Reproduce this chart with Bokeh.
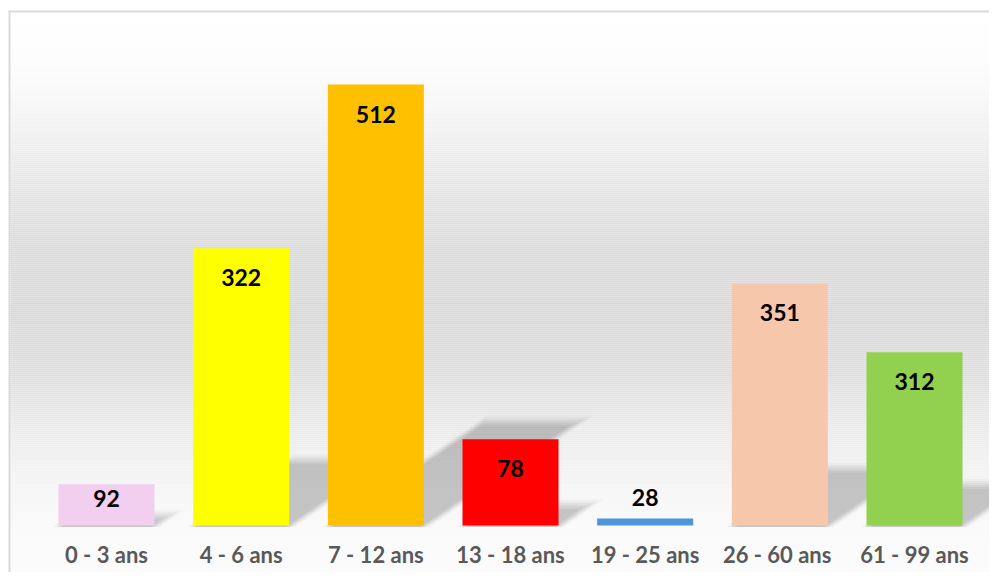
import numpy as np
from bokeh.plotting import figure
from bokeh.models import Range1d, ColumnDataSource
from bokeh.embed import file_html
from bokeh.resources import INLINE
from bokeh.core.properties import value

# ---------------- data ----------------
categories = ["0 - 3 ans", "4 - 6 ans", "7 - 12 ans", "13 - 18 ans",
              "19 - 25 ans", "26  - 60 ans", "61 - 99 ans"]
bar_values = [48, 322, 512, 100, 8, 281, 201]        # heights as drawn
label_values = [92, 322, 512, 78, 28, 351, 312]      # printed data labels
bar_colors = ["#F2CEEF", "#FFFF00", "#FFC000", "#FF0000",
              "#4E95D9", "#F7C7AC", "#92D050"]

# ---------------- layout (pixels) ----------------
W, H = 989, 572
x_first = 106.0
x_step = 134.67
base_px = 525.0
ppu = 441.0 / 512.0
TXT_FIX = 9.0   # text renders lower than its anchor; compensate

x0 = -x_first / x_step
x1 = (W - x_first) / x_step
y1 = base_px / ppu
y0 = -(H - base_px) / ppu


def dy(py):
    """image pixel y -> data y"""
    return (base_px - py) / ppu


def dx(px):
    return (px - x_first) / x_step


p = figure(width=W, height=H, x_range=Range1d(x0, x1), y_range=Range1d(y0, y1),
           output_backend="svg", toolbar_location=None, min_border=0,
           x_axis_location=None, y_axis_location=None)
p.grid.visible = False
p.outline_line_color = None
p.background_fill_color = "white"
p.border_fill_color = "white"

# ---------------- background gradient ----------------
stop_y = [12, 60, 100, 150, 200, 250, 320, 380, 430, 480, 525, 580]
stop_v = [255, 253, 247, 237, 226, 218, 216, 223, 235, 244, 249, 251]
gy = np.arange(12, 580, 2)
tops, bots, cols = [], [], []
for py in gy:
    g = int(round(np.interp(py + 1, stop_y, stop_v)))
    tops.append(dy(py))
    bots.append(dy(py + 2))
    cols.append("#%02x%02x%02x" % (g, g, g))
p.quad(left=dx(10), right=x1, top=tops, bottom=bots, fill_color=cols, line_color=None)

# border (top and left)
p.quad(left=dx(8), right=x1, top=dy(10), bottom=dy(12), fill_color="#d9d9d9", line_color=None)
p.quad(left=dx(8), right=dx(10), top=dy(10), bottom=y0, fill_color="#d9d9d9", line_color=None)

# ---------------- perspective shadows ----------------
bw = 0.713
idx = list(range(len(categories)))
for d, a in [(6, 0.025), (4, 0.03), (2, 0.04), (0, 0.045), (-2, 0.045), (-4, 0.04)]:
    xs, ys = [], []
    for i, v in zip(idx, bar_values):
        hpx = 0.235 * v * ppu
        if hpx < 2:
            continue
        hpx_d = max(hpx + d, 1)
        shift = 1.5 * hpx_d / x_step
        l = i - bw / 2 - d / x_step
        r = i + bw / 2 + d / x_step
        top = hpx_d / ppu
        bot = -1.5 / ppu
        xs.append([l, r, r + shift, l + shift])
        ys.append([bot, bot, top, top])
    p.patches(xs=xs, ys=ys, fill_color="black", fill_alpha=a, line_color=None)

# ---------------- bars ----------------
src = ColumnDataSource(dict(x=idx, top=bar_values, color=bar_colors))
p.vbar(x="x", top="top", bottom=0, width=bw, fill_color="color", line_color=None, source=src)

# ---------------- value labels ----------------
lab_y = []
for v in bar_values:
    hpx = v * ppu
    if hpx >= 60:
        off = 38.5
    elif hpx >= 30:
        off = hpx / 2 + 2.5
    else:
        off = -12
    lab_y.append(v - (off - TXT_FIX) / ppu)
p.text(x=idx, y=lab_y, text=[str(v) for v in label_values],
       text_font=value("Lato"), text_font_style="bold", text_font_size="23px",
       text_align="center", text_baseline="alphabetic", text_color="black")

# ---------------- category labels ----------------
p.text(x=idx, y=[dy(563 - TXT_FIX)] * len(idx), text=categories,
       text_font=value("Lato"), text_font_style="bold", text_font_size="22px",
       text_align="center", text_baseline="alphabetic", text_color="#595959")

open("out.html", "w").write(file_html(p, INLINE))
